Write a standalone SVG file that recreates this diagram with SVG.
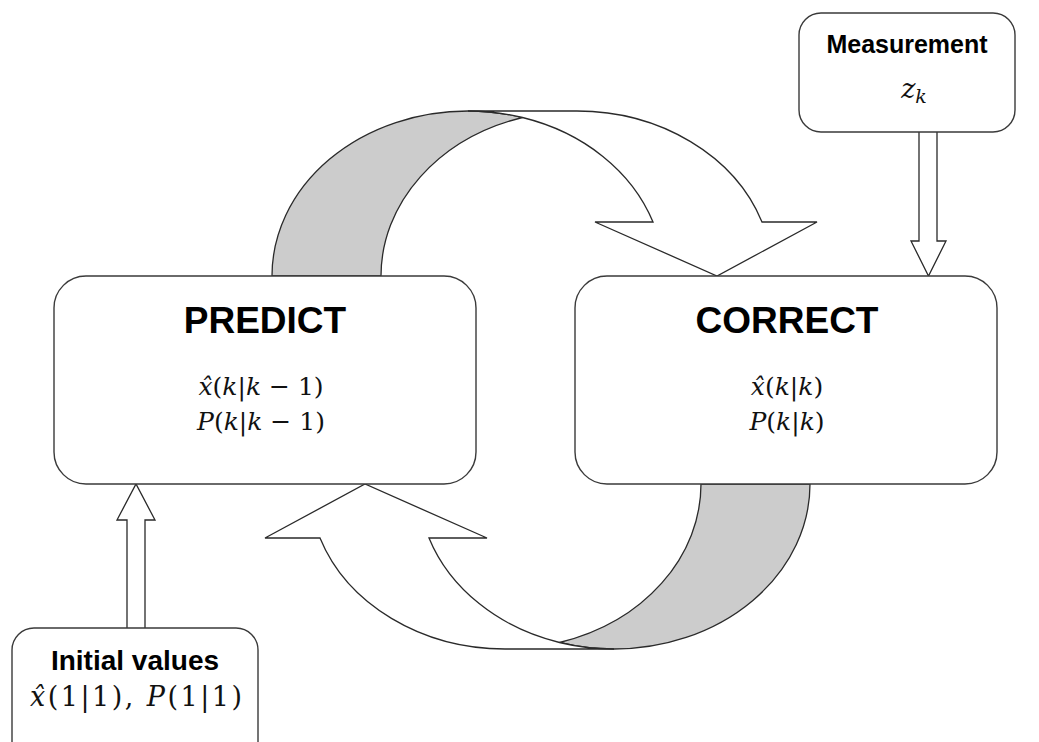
<svg xmlns="http://www.w3.org/2000/svg" width="1039" height="742" viewBox="0 0 1039 742">
<style>
.bg{fill:#ffffff}
.box{fill:#ffffff;stroke:#3a3a3a;stroke-width:1.4}
.band{fill:#cccccc;stroke:#2a2a2a;stroke-width:1.3;stroke-linejoin:round}
.front{fill:#ffffff;stroke:#2a2a2a;stroke-width:1.3;stroke-linejoin:miter}
.blk{fill:#ffffff;stroke:#2a2a2a;stroke-width:1.3}
.title{font-family:"Liberation Sans",Arial,sans-serif;font-weight:bold;fill:#000;text-anchor:middle}
.math{font-family:"DejaVu Serif","Liberation Serif",serif;fill:#111;text-anchor:middle}
.it{font-style:italic}
</style>
<defs>
<g id="curved">
<path class="band" d="M272,276 A196,165 0 0 1 468,111 A196,165 0 0 1 522.5,117.5 A196,165 0 0 0 381,276 Z"/>
<path class="front" d="M468,111 L577,111 A196,165 0 0 1 762,222 L817,222 L717,276 L595,222 L653,222 A196,165 0 0 0 522.5,117.5 A196,165 0 0 0 468,111 Z"/>
</g>
</defs>
<rect class="bg" x="0" y="0" width="1039" height="742"/>
<g id="connectors">
<use href="#curved"/>
<use href="#curved" transform="rotate(180 541 380)"/>
<path class="blk" d="M919,132 L919,241 L911,241 L928.5,276 L946,241 L937,241 L937,132"/>
<path class="blk" d="M127,628 L127,520 L117,520 L136,484 L155,520 L145,520 L145,628"/>
</g>
<g id="predict">
<rect class="box" x="54" y="276" width="422" height="208" rx="32"/>
<text class="title" x="265" y="333" font-size="37">PREDICT</text>
<text class="math" x="261" y="395" font-size="25"><tspan class="it">x̂</tspan>(<tspan class="it">k</tspan>|<tspan class="it">k</tspan> − 1)</text>
<text class="math" x="261" y="430" font-size="25"><tspan class="it">P</tspan>(<tspan class="it">k</tspan>|<tspan class="it">k</tspan> − 1)</text>
</g>
<g id="correct">
<rect class="box" x="575" y="276" width="422" height="208" rx="32"/>
<text class="title" x="787" y="333" font-size="37">CORRECT</text>
<text class="math" x="787" y="395" font-size="25"><tspan class="it">x̂</tspan>(<tspan class="it">k</tspan>|<tspan class="it">k</tspan>)</text>
<text class="math" x="787" y="430" font-size="25"><tspan class="it">P</tspan>(<tspan class="it">k</tspan>|<tspan class="it">k</tspan>)</text>
</g>
<g id="measurement">
<rect class="box" x="799" y="13" width="216" height="119" rx="22"/>
<text class="title" x="907" y="53" font-size="25">Measurement</text>
<text class="math" x="914" y="98" font-size="27"><tspan class="it">z</tspan><tspan class="it" font-size="19" dy="5">k</tspan></text>
</g>
<g id="initial">
<rect class="box" x="12" y="628" width="246" height="140" rx="22"/>
<text class="title" x="135" y="670" font-size="28">Initial values</text>
<text class="math" x="136" y="706" font-size="27" textLength="212" lengthAdjust="spacing"><tspan class="it">x̂</tspan>(1|1), <tspan class="it">P</tspan>(1|1)</text>
</g>
</svg>
